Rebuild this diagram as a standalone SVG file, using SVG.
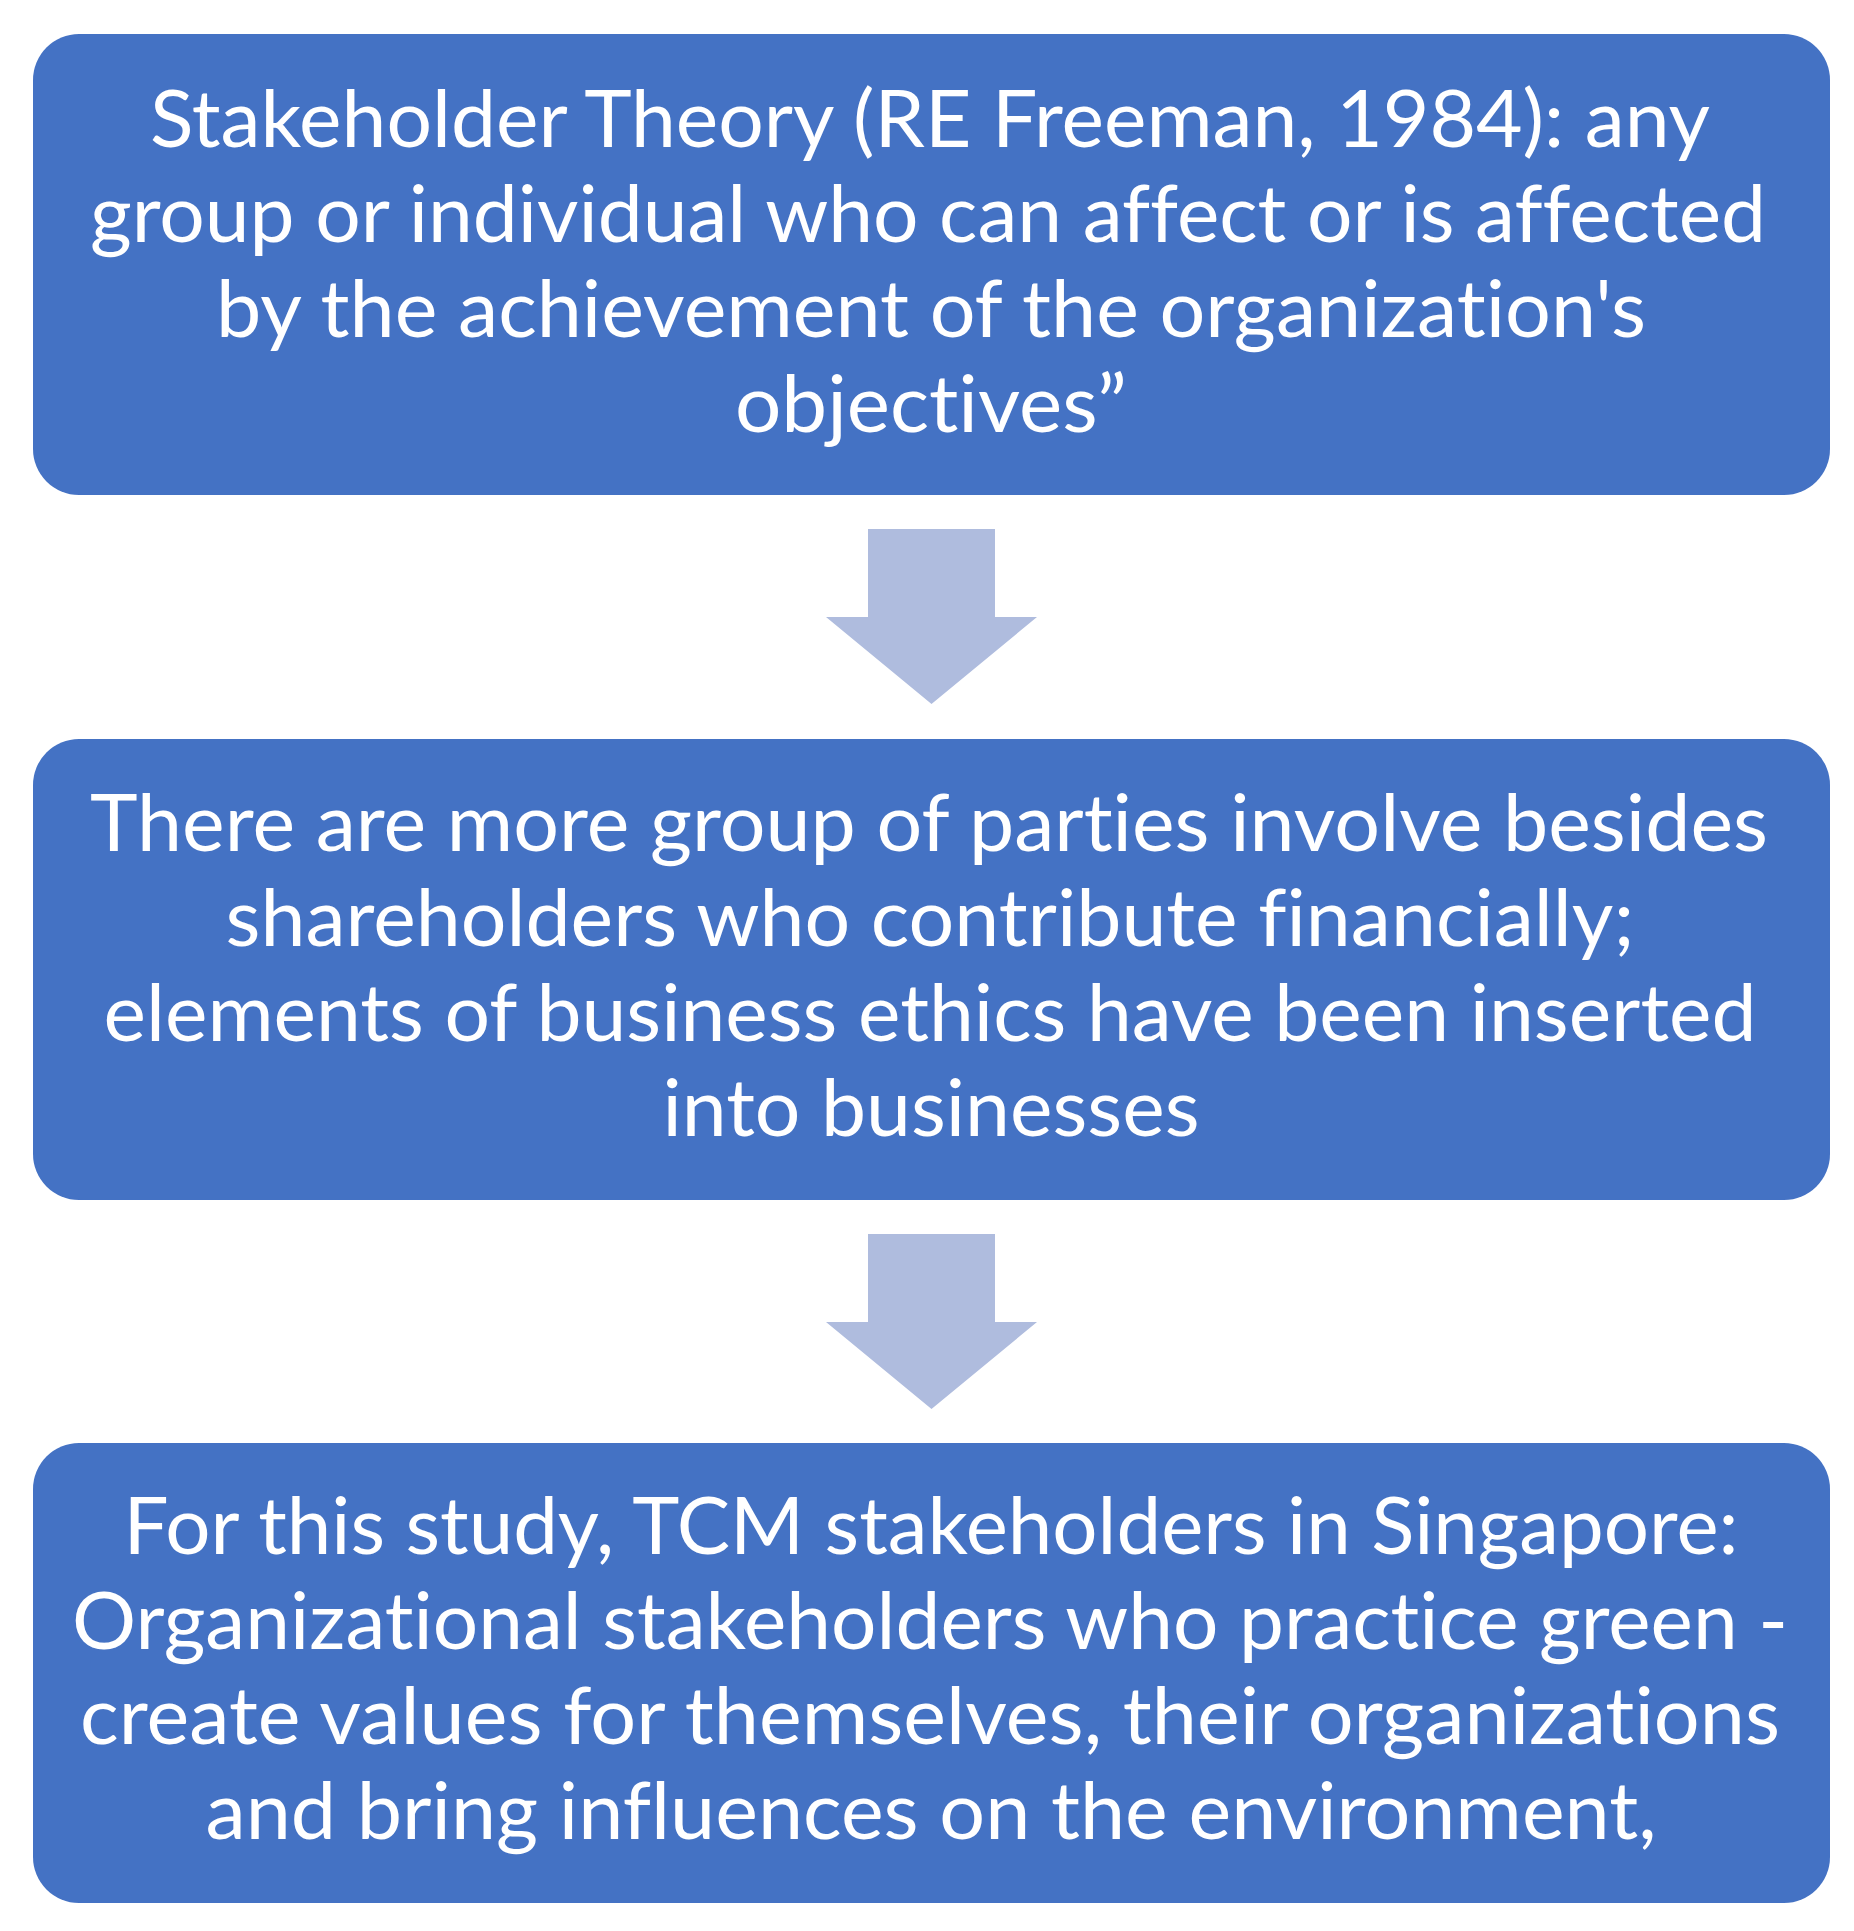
<svg xmlns="http://www.w3.org/2000/svg" width="1854" height="1931" viewBox="0 0 1854 1931">
  <style>
    .box { fill: #4472C4; }
    .arrow { fill: #AFBCDE; }
    .t { font-family: Lato, "Open Sans", "Liberation Sans", sans-serif; font-size: 80px; fill: #FFFFFF; text-anchor: middle; font-variant-ligatures: none; font-feature-settings: "liga" 0, "clig" 0, "dlig" 0; }
  </style>
  <rect width="1854" height="1931" fill="#FFFFFF"/>
  <g id="connectors">
    <polygon class="arrow" points="868,529 995,529 995,617 1037,617 931.5,704 826,617 868,617"/>
    <polygon class="arrow" points="868,1234 995,1234 995,1322 1037,1322 931.5,1409 826,1322 868,1322"/>
  </g>
  <g id="node1">
    <rect class="box" x="33" y="34" width="1797" height="461" rx="46" ry="46"/>
    <text class="t" x="930" y="147" textLength="1560" lengthAdjust="spacingAndGlyphs">Stakeholder Theory (RE Freeman, 1984): any</text>
    <text class="t" x="928" y="242" textLength="1676" lengthAdjust="spacingAndGlyphs">group or individual who can affect or is affected</text>
    <text class="t" x="931" y="337" textLength="1430" lengthAdjust="spacingAndGlyphs">by the achievement of the organization's</text>
    <text class="t" x="931" y="432" textLength="392" lengthAdjust="spacingAndGlyphs">objectives”</text>
  </g>
  <g id="node2">
    <rect class="box" x="33" y="739" width="1797" height="461" rx="46" ry="46"/>
    <text class="t" x="929" y="851" textLength="1678" lengthAdjust="spacingAndGlyphs">There are more group of parties involve besides</text>
    <text class="t" x="930" y="946" textLength="1409" lengthAdjust="spacingAndGlyphs">shareholders who contribute financially;</text>
    <text class="t" x="930" y="1041" textLength="1653" lengthAdjust="spacingAndGlyphs">elements of business ethics have been inserted</text>
    <text class="t" x="931" y="1136" textLength="537" lengthAdjust="spacingAndGlyphs">into businesses</text>
  </g>
  <g id="node3">
    <rect class="box" x="33" y="1443" width="1797" height="460" rx="46" ry="46"/>
    <text class="t" x="931" y="1554" textLength="1615" lengthAdjust="spacingAndGlyphs">For this study, TCM stakeholders in Singapore:</text>
    <text class="t" x="930" y="1649" textLength="1716" lengthAdjust="spacingAndGlyphs">Organizational stakeholders who practice green -</text>
    <text class="t" x="930" y="1744" textLength="1700" lengthAdjust="spacingAndGlyphs">create values for themselves, their organizations</text>
    <text class="t" x="931" y="1839" textLength="1451" lengthAdjust="spacingAndGlyphs">and bring influences on the environment,</text>
  </g>
</svg>
